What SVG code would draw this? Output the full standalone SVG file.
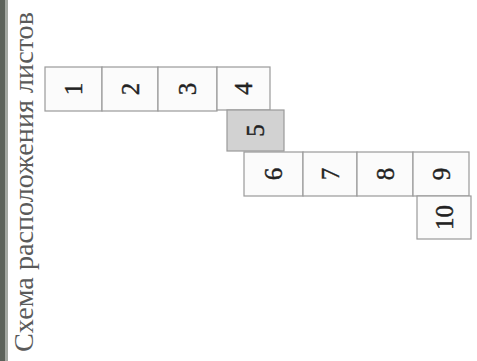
<svg xmlns="http://www.w3.org/2000/svg" width="477" height="361" viewBox="0 0 477 361">
<style>
.box{fill:#fbfbfb;stroke:#9a9a9a;stroke-width:1.2}
.gray{fill:#d2d2d2}
.num{font-family:"Liberation Serif","Times New Roman",serif;font-size:25px;fill:#222;stroke:#222;stroke-width:0.4;text-anchor:middle;dominant-baseline:central}
.title{font-family:"Liberation Serif","Times New Roman",serif;font-size:27px;fill:#5a5a5a}
</style>
<rect x="0" y="0" width="477" height="361" fill="#ffffff"/>
<rect x="0" y="0" width="5" height="361" fill="#5c625a"/>
<rect x="5" y="0" width="3" height="361" fill="#a3a7a1"/>
<text class="title" transform="translate(33,352) rotate(-90)" textLength="340" lengthAdjust="spacingAndGlyphs">Схема расположения листов</text>
<g id="sheet1"><rect class="box" x="45" y="67" width="57" height="44"/><text class="num" transform="translate(73.5,89) rotate(-90)">1</text></g>
<g id="sheet2"><rect class="box" x="102" y="67" width="56" height="44"/><text class="num" transform="translate(130,89) rotate(-90)">2</text></g>
<g id="sheet3"><rect class="box" x="158" y="67" width="59" height="44"/><text class="num" transform="translate(187.5,89) rotate(-90)">3</text></g>
<g id="sheet4"><rect class="box" x="217" y="67" width="53" height="43"/><text class="num" transform="translate(243.5,88.5) rotate(-90)">4</text></g>
<g id="sheet5"><rect class="box gray" x="227" y="110" width="57" height="41"/><text class="num" transform="translate(255.5,130.5) rotate(-90)">5</text></g>
<g id="sheet6"><rect class="box" x="244" y="152" width="59" height="44"/><text class="num" transform="translate(273.5,174) rotate(-90)">6</text></g>
<g id="sheet7"><rect class="box" x="303" y="152" width="54" height="44"/><text class="num" transform="translate(330,174) rotate(-90)">7</text></g>
<g id="sheet8"><rect class="box" x="357" y="152" width="56" height="44"/><text class="num" transform="translate(385,174) rotate(-90)">8</text></g>
<g id="sheet9"><rect class="box" x="413" y="152" width="56" height="44"/><text class="num" transform="translate(441,174) rotate(-90)">9</text></g>
<g id="sheet10"><rect class="box" x="417" y="196" width="54" height="43"/><text class="num" transform="translate(444,217.5) rotate(-90)">10</text></g>
</svg>
